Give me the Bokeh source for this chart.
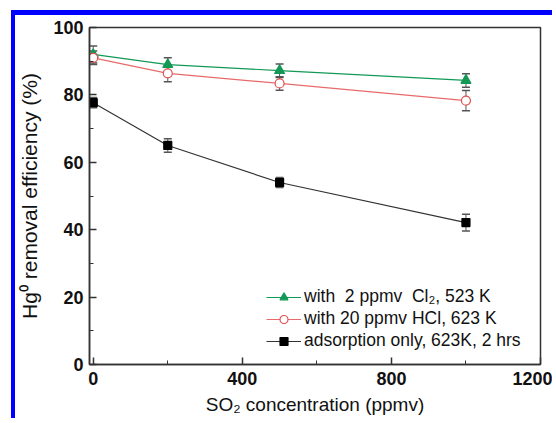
from bokeh.plotting import figure
from bokeh.models import ColumnDataSource, Whisker, Legend, LegendItem, Range1d, TeeHead, FixedTicker
from bokeh.embed import file_html
from bokeh.resources import INLINE

so2 = [0, 200, 500, 1000]
cl2_eff = [92.0, 89.0, 87.2, 84.3]
cl2_err = [2.5, 2.0, 2.0, 2.0]
hcl_eff = [91.0, 86.4, 83.4, 78.3]
hcl_err = [2.0, 2.5, 2.0, 3.0]
ads_eff = [77.7, 65.0, 54.0, 42.1]
ads_err = [1.5, 2.0, 1.5, 2.5]

x_ticks = [0, 400, 800, 1200]
x_minor = [200, 600, 1000]
y_ticks = [0, 20, 40, 60, 80, 100]
y_minor = [10, 30, 50, 70, 90]

labels = ["with  2 ppmv  Cl\u2082, 523 K", "with 20 ppmv HCl, 623 K", "adsorption only, 623K, 2 hrs"]

p = figure(width=541, height=408, output_backend="svg", toolbar_location=None,
           x_range=Range1d(-10, 1200), y_range=Range1d(0, 100),
           min_border_left=68, min_border_top=12, min_border_right=16, min_border_bottom=59)
p.styles = {"border-left": "4px solid #0000ff", "border-top": "5px solid #0000ff",
            "margin-left": "11px", "margin-top": "10px"}
p.grid.visible = False
p.outline_line_color = "#333333"
p.outline_line_width = 1.5
p.background_fill_color = "white"
p.border_fill_color = "white"

p.xaxis.ticker = FixedTicker(ticks=x_ticks, minor_ticks=x_minor)
p.yaxis.ticker = FixedTicker(ticks=y_ticks, minor_ticks=y_minor)

for ax in (p.xaxis[0], p.yaxis[0]):
    ax.major_tick_in = 7
    ax.major_tick_out = 0
    ax.minor_tick_in = 4
    ax.minor_tick_out = 0
    ax.axis_line_color = "#333333"
    ax.axis_line_width = 1.5
    ax.major_tick_line_color = "#333333"
    ax.minor_tick_line_color = "#333333"
    ax.major_tick_line_width = 1.5
    ax.major_label_text_font = "Liberation Sans"
    ax.major_label_text_font_style = "bold"
    ax.major_label_text_font_size = "18px"
    ax.major_label_text_color = "#111111"
    ax.axis_label_text_font = "Liberation Sans"
    ax.axis_label_text_font_style = "normal"
    ax.axis_label_text_color = "#111111"

p.xaxis.axis_label = "SO\u2082 concentration (ppmv)"
p.xaxis.axis_label_text_font_size = "19px"
p.xaxis.major_label_standoff = 7
p.xaxis.axis_label_standoff = 6
p.yaxis.axis_label = "Hg\u2070 removal efficiency (%)"
p.yaxis.axis_label_text_font_size = "21px"
p.yaxis.major_label_standoff = 6
p.yaxis.axis_label_standoff = 9

series = [
    (cl2_eff, cl2_err, "#119955", "#119955", "triangle", "#119955", 10),
    (hcl_eff, hcl_err, "#e86a6a", "#e05050", "circle", "white", 9),
    (ads_eff, ads_err, "#333333", "#000000", "square", "#000000", 8),
]

items = []
for (vals, errs, lcol, mcol, mk, fill, sz), lab in zip(series, labels):
    src = ColumnDataSource(dict(x=so2, y=vals,
                                lo=[v - e for v, e in zip(vals, errs)],
                                hi=[v + e for v, e in zip(vals, errs)]))
    w = Whisker(source=src, base="x", lower="lo", upper="hi", line_color="#555555", line_width=1,
                upper_head=TeeHead(size=8, line_color="#555555", line_width=1.5),
                lower_head=TeeHead(size=8, line_color="#555555", line_width=1.5))
    p.add_layout(w)
    ln = p.line("x", "y", source=src, line_color=lcol, line_width=1.2)
    sc = p.scatter("x", "y", source=src, marker=mk, size=sz, line_color=mcol, fill_color=fill, line_width=1.2)
    items.append(LegendItem(label=lab, renderers=[ln, sc]))

leg = Legend(items=items, location=(177, 13), padding=0, margin=0, spacing=1,
             glyph_width=35, glyph_height=20, label_height=20, label_standoff=3,
             label_text_font="Liberation Sans", label_text_font_size="17.5px",
             label_text_color="#111111",
             border_line_alpha=0, background_fill_alpha=0)
p.add_layout(leg)

open("out.html", "w").write(file_html(p, INLINE))
